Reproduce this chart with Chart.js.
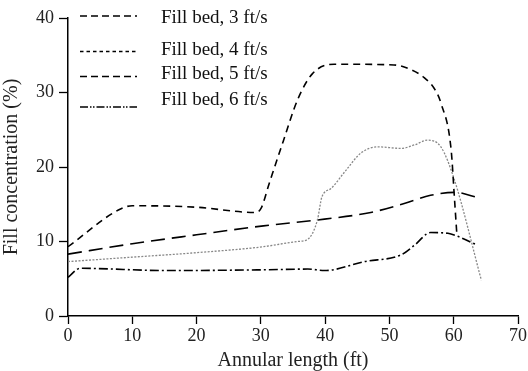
<!DOCTYPE html>
<html><head><meta charset="utf-8">
<script src="https://cdn.jsdelivr.net/npm/chart.js@4/dist/chart.umd.min.js"></script>
<style>html,body{margin:0;padding:0;background:#fff}#wrap{width:528px;height:371px}</style>
</head><body><div id="wrap"><canvas id="c" width="528" height="371"></canvas></div>
<script>
const seriesNames = ["Fill bed, 3 ft/s", "Fill bed, 4 ft/s", "Fill bed, 5 ft/s", "Fill bed, 6 ft/s"];
const xTicks = [0, 10, 20, 30, 40, 50, 60, 70];
const yTicks = [0, 10, 20, 30, 40];
const bed3 = [[0,9.3],[8,14.3],[10,14.8],[20,14.6],[29,13.9],[30,14.4],[31.3,17.8],[33.5,23.5],[35.7,29.0],[38,32.5],[41.4,33.8],[50.7,33.7],[53.5,33.0],[55.4,32.0],[57,30.5],[58,28.6],[59.6,22.3],[60.1,16],[60.5,10.8]];
const bed4 = [[0,7.3],[10,7.9],[20,8.5],[30.4,9.3],[35.7,10.0],[37.3,10.3],[38.8,12.9],[39.5,16.0],[40.9,17.1],[43,19.3],[45.6,21.9],[48.2,22.7],[51.8,22.5],[54,23.0],[55.9,23.6],[58,22.7],[60.1,18.3],[64.3,4.8]];
const bed5 = [[0,8.3],[10,9.7],[20,10.9],[30.4,12.1],[39.9,13.0],[47.1,13.9],[52.3,15.1],[56.4,16.2],[60.3,16.6],[63.7,15.9]];
const bed6 = [[0,5.2],[1.9,6.4],[15.4,6.1],[30.4,6.2],[37.3,6.3],[39.9,6.1],[46.1,7.3],[51.8,8.2],[53.9,9.5],[56.4,11.2],[59.1,11.1],[60.6,10.7],[63.7,9.5]];

const toPts = a => a.map(p => ({x: p[0], y: p[1]}));
const FONT = "'Liberation Serif', 'Times New Roman', serif";

const legendRows = [
  {lineY: 16, textY: 18, dash: [7,4]},
  {lineY: 51.5, textY: 50, dash: [3.5,3]},
  {lineY: 76.5, textY: 74, dash: [7,4]},
  {lineY: 107, textY: 100, dash: [8,2,1.5,1.5,1.5,2]}
];
const legendPlugin = {
  id: 'customLegend',
  afterDraw(chart) {
    const ctx = chart.ctx;
    ctx.save();
    legendRows.forEach((r, i) => {
      ctx.beginPath();
      ctx.setLineDash(r.dash);
      ctx.strokeStyle = '#000';
      ctx.lineWidth = 1.7;
      ctx.moveTo(80, r.lineY);
      ctx.lineTo(137, r.lineY);
      ctx.stroke();
      ctx.setLineDash([]);
      ctx.fillStyle = '#111';
      ctx.font = "19px " + FONT;
      ctx.textBaseline = 'middle';
      ctx.textAlign = 'left';
      ctx.fillText(seriesNames[i], 161, r.textY);
    });
    ctx.restore();
  }
};

new Chart(document.getElementById('c'), {
  type: 'line',
  data: {
    datasets: [
      {label: seriesNames[0], data: toPts(bed3), borderColor: '#000', borderWidth: 1.6, borderDash: [7,5], pointRadius: 0, cubicInterpolationMode: 'monotone', fill: false},
      {label: seriesNames[1], data: toPts(bed4), borderColor: '#888', borderWidth: 1.3, borderDash: [2,1.5], pointRadius: 0, cubicInterpolationMode: 'monotone', fill: false},
      {label: seriesNames[2], data: toPts(bed5), borderColor: '#000', borderWidth: 1.6, borderDash: [14,7], pointRadius: 0, cubicInterpolationMode: 'monotone', fill: false},
      {label: seriesNames[3], data: toPts(bed6), borderColor: '#000', borderWidth: 1.6, borderDash: [9,3,2,3], pointRadius: 0, cubicInterpolationMode: 'monotone', fill: false}
    ]
  },
  options: {
    responsive: false,
    animation: false,
    layout: {padding: {left: 0, right: 10, top: 18, bottom: 0}},
    plugins: {legend: {display: false}, tooltip: {enabled: false}},
    scales: {
      x: {
        type: 'linear', min: 0, max: 70,
        afterBuildTicks: s => { s.ticks = xTicks.map(v => ({value: v})); },
        afterFit: s => { s.height = 55; },
        grid: {drawOnChartArea: false, drawTicks: true, tickLength: 8, tickColor: '#000', tickWidth: 1.3},
        border: {display: true, color: '#000', width: 1.5},
        ticks: {color: '#222', font: {family: FONT, size: 18}, padding: 1, maxRotation: 0},
        title: {display: true, text: 'Annular length (ft)', color: '#222', font: {family: FONT, size: 20, lineHeight: 1.0}, padding: {top: 0, bottom: 0}}
      },
      y: {
        type: 'linear', min: 0, max: 40,
        afterBuildTicks: s => { s.ticks = yTicks.map(v => ({value: v})); },
        afterFit: s => { s.width = 68; },
        grid: {drawOnChartArea: false, drawTicks: true, tickLength: 9, tickColor: '#000', tickWidth: 1.3},
        border: {display: true, color: '#000', width: 1.5},
        ticks: {color: '#222', font: {family: FONT, size: 18}, padding: 5},
        title: {display: true, text: 'Fill concentration (%)', color: '#222', font: {family: FONT, size: 20, lineHeight: 1.0}, padding: {top: 2, bottom: 0}}
      }
    }
  },
  plugins: [legendPlugin]
});
</script></body></html>
